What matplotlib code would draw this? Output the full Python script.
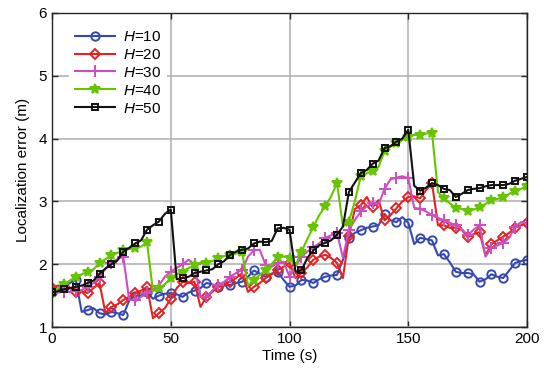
import numpy as np
import matplotlib
matplotlib.use("Agg")
import matplotlib.pyplot as plt

plt.rcParams['font.family'] = ['Liberation Sans', 'DejaVu Sans']
plt.rcParams['mathtext.fontset'] = 'custom'
plt.rcParams['mathtext.it'] = 'Liberation Sans:italic'
plt.rcParams['mathtext.rm'] = 'Liberation Sans'

# time axis (s), sampled every 2.5 s
time_s = np.arange(0, 200.1, 2.5)

h10 = [1.55,1.58,1.63,1.70,1.75,1.24,1.27,1.30,1.22,1.20,
       1.24,1.22,1.19,1.42,1.50,1.50,1.55,1.45,1.50,1.53,
       1.54,1.52,1.48,1.55,1.58,1.62,1.70,1.68,1.64,1.66,
       1.67,1.70,1.72,1.80,1.90,1.85,1.80,1.85,1.88,1.75,
       1.64,1.66,1.75,1.74,1.70,1.76,1.80,1.82,1.83,2.07,
       2.42,2.50,2.54,2.58,2.60,2.62,2.80,2.70,2.67,2.75,
       2.66,2.32,2.42,2.40,2.38,2.14,2.16,2.03,1.88,1.86,
       1.86,1.84,1.72,1.76,1.84,1.80,1.78,1.90,2.02,2.05,
       2.07]
h20 = [1.62,1.66,1.64,1.62,1.56,1.57,1.54,1.62,1.70,1.22,
       1.32,1.36,1.43,1.48,1.54,1.58,1.64,1.14,1.22,1.30,
       1.45,1.62,1.72,1.70,1.72,1.32,1.48,1.56,1.64,1.68,
       1.72,1.78,1.86,1.56,1.64,1.70,1.78,1.84,1.91,1.96,
       2.02,1.78,1.86,1.95,2.07,2.12,2.15,2.10,2.02,1.78,
       2.45,2.88,2.94,3.07,2.91,3.02,2.70,2.78,2.89,3.00,
       3.07,3.08,3.05,3.18,3.29,2.62,2.62,2.58,2.58,2.55,
       2.43,2.48,2.51,2.14,2.32,2.38,2.44,2.50,2.58,2.62,
       2.66]
h30 = [1.54,1.55,1.56,1.56,1.58,1.59,1.64,1.70,1.80,1.93,
       2.02,2.08,2.12,1.43,1.43,1.48,1.54,1.60,1.66,1.80,
       1.88,1.94,2.00,2.07,2.00,1.48,1.48,1.58,1.67,1.72,
       1.80,1.86,1.91,2.12,2.22,2.23,1.98,1.96,2.02,2.04,
       1.80,1.96,2.12,2.20,2.27,2.33,2.42,2.46,2.50,2.10,
       2.55,2.70,2.84,2.92,2.97,2.95,3.20,3.35,3.38,3.40,
       3.37,2.90,2.88,2.84,2.78,2.74,2.70,2.66,2.62,2.56,
       2.46,2.55,2.62,2.12,2.26,2.30,2.34,2.42,2.60,2.67,
       2.66]
h40 = [1.56,1.62,1.68,1.74,1.80,1.84,1.88,1.92,2.02,2.08,
       2.15,2.18,2.22,2.24,2.26,2.28,2.35,1.57,1.62,1.68,
       1.78,1.84,1.88,1.94,1.98,2.02,2.02,2.05,2.10,2.13,
       2.15,2.17,2.19,1.66,1.75,1.83,1.91,2.00,2.12,2.12,
       2.10,1.97,2.20,2.40,2.59,2.78,2.92,3.08,3.29,2.60,
       2.68,3.00,3.40,3.45,3.48,3.55,3.80,3.87,3.93,3.98,
       4.03,4.06,4.05,4.08,4.09,3.15,3.05,2.97,2.90,2.88,
       2.84,2.87,2.91,2.96,3.02,3.04,3.07,3.12,3.17,3.20,
       3.24]
h50 = [1.55,1.57,1.60,1.62,1.64,1.66,1.70,1.74,1.85,1.93,
       2.00,2.06,2.20,2.26,2.33,2.38,2.55,2.62,2.68,2.80,
       2.87,1.76,1.78,1.80,1.86,1.88,1.90,1.92,2.00,2.05,
       2.15,2.20,2.23,2.25,2.33,2.36,2.35,2.37,2.57,2.58,
       2.55,1.88,1.90,2.10,2.22,2.30,2.34,2.38,2.47,2.60,
       3.15,3.30,3.45,3.50,3.60,3.65,3.85,3.88,3.95,4.00,
       4.14,3.25,3.17,3.22,3.29,3.26,3.20,3.18,3.07,3.12,
       3.18,3.20,3.21,3.24,3.26,3.26,3.26,3.28,3.33,3.36,
       3.39]

labels = [r'$H$=10', r'$H$=20', r'$H$=30', r'$H$=40', r'$H$=50']
series = [h10, h20, h30, h40, h50]
colors = ['#3548b0', '#e52222', '#cc4fbf', '#66c400', '#111111']
markers = ['o', 'D', '+', '*', 's']
msizes = [6, 5, 8.5, 7.5, 5]

fig = plt.figure(figsize=(5.44, 3.81), dpi=100)
ax = fig.add_axes([0.0956, 0.1417, 0.8732, 0.8242])

for y, lab, c, m, ms in zip(series, labels, colors, markers, msizes):
    filled = m == '*'
    ax.plot(time_s, y, color=c, lw=1.5, marker=m, markevery=2, ms=ms,
            mfc=c if filled else 'none', mec=c, mew=1.4, label=lab)

ax.set_xlim(0, 200)
ax.set_ylim(1, 6)
ax.set_xticks([0, 50, 100, 150, 200])
ax.set_yticks([1, 2, 3, 4, 5, 6])
ax.grid(True, color='#b4b4b4', lw=1.2)
ax.set_axisbelow(True)
ax.tick_params(direction='in', top=True, right=True, labelsize=11,
               length=4, color='#262626', width=1.0)
for sp in ax.spines.values():
    sp.set_color('#262626')
    sp.set_linewidth(1.0)
ax.set_xlabel('Time (s)', fontsize=11, labelpad=2)
ax.set_ylabel('Localization error (m)', fontsize=11, labelpad=6)

leg = ax.legend(loc='upper left', bbox_to_anchor=(0.02, 0.99), fontsize=11,
                frameon=True, fancybox=False, edgecolor='none', framealpha=1,
                handlelength=2.6, handletextpad=0.5, labelspacing=0.26,
                borderpad=0.4)

fig.savefig('out.png', dpi=100)
